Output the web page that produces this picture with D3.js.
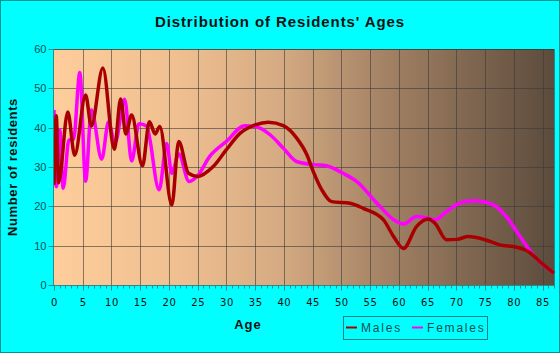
<!DOCTYPE html>
<html>
<head>
<meta charset="utf-8">
<script src="https://cdn.jsdelivr.net/npm/d3@7"></script>
<style>
  body { margin: 0; background: #fff; }
  svg { display: block; }
</style>
</head>
<body>
<svg width="560" height="353"></svg>
<script>
// ages where the curves were read, and counts at those ages
const maleAges = [0, 0.4, 0.8, 2.4, 3.6, 5.5, 6.5, 8.5, 10.5, 11.6, 12.5, 13.5, 15.4, 16.6, 17.6, 18.4,
    20.5, 21.7, 23.4, 25, 27.7, 30, 32.4, 35, 37.3, 39.9, 42.2, 44, 45.1, 46.6, 48.3, 51.5, 53.8,
    57.3, 59.1, 60.8, 63.1, 65.1, 66.3, 68.3, 70.1, 72.1, 75, 77.6, 80.5, 82.3, 85.2, 87];
const maleCounts = [25.5, 43, 26, 44, 33, 48.3, 40.4, 55.2, 34.5, 47.3, 38.4, 43.2, 30.3, 41.5, 38.4, 40.3,
    20.3, 36.5, 28.4, 27.6, 30.1, 34.4, 38.6, 40.7, 41.4, 40.5, 37.4, 33.1, 28.9, 24.2, 21.2, 20.8, 19.5,
    16.6, 12.3, 9.3, 14.9, 16.8, 15.7, 11.5, 11.6, 12.3, 11.5, 10.2, 9.6, 8.7, 5.1, 3];

const femaleAges = [0, 0.4, 1, 1.6, 2.6, 3.4, 4.5, 5.5, 6.5, 8.3, 9.5, 10.6, 12.3, 13.5, 14.8, 16.1,
    18.3, 19.6, 20.5, 21.7, 23.5, 25, 27.1, 30, 33.2, 35, 37.6, 39.9, 42.2, 45.1, 47.4, 50.3, 52.7,
    56.2, 59.1, 60.8, 63.1, 64.9, 66.3, 68.3, 70.6, 72.9, 75, 77, 78.7, 81.1, 83.4, 87];
const femaleCounts = [44.5, 25, 39.4, 24.6, 36.9, 37, 54, 26.4, 44.5, 32, 41.5, 36, 47.2, 31.5, 41, 40.4,
    24.2, 36, 28.4, 33.3, 26.3, 27.8, 32.7, 36.5, 40.5, 40.3, 38.2, 34.8, 31.4, 30.6, 30.3, 28.4, 26.3,
    20.8, 16.6, 15.5, 17.4, 17, 16.6, 18.7, 20.8, 21.4, 21.1, 19.9, 17.4, 12.3, 7.6, 3];

const xTicks = d3.range(0, 86, 5);
const yTicks = d3.range(0, 61, 10);

const svg = d3.select("svg");
const W = 560, H = 353;

// background with teal frame
svg.append("rect")
    .attr("x", 0.5).attr("y", 0.5)
    .attr("width", W - 1).attr("height", H - 1)
    .attr("fill", "#00ffff")
    .attr("stroke", "#009494");

const area = { left: 54, right: 554, top: 49, bottom: 285 };

const scX = d3.scaleLinear().domain([0, 87]).range([area.left, area.right]);
const scY = d3.scaleLinear().domain([0, 60]).range([area.bottom, area.top]);

// plot background gradient (light peach -> dark brown)
const grad = svg.append("defs").append("linearGradient")
    .attr("id", "bg").attr("x1", "0").attr("x2", "1").attr("y1", "0").attr("y2", "0");
[["0%", "#fecd9b"], ["25%", "#efbf90"], ["45%", "#d6ab83"], ["65%", "#a68466"], ["100%", "#5c4b3c"]]
    .forEach(s => grad.append("stop").attr("offset", s[0]).attr("stop-color", s[1]));

svg.append("rect")
    .attr("x", area.left).attr("y", area.top)
    .attr("width", area.right - area.left).attr("height", area.bottom - area.top)
    .attr("fill", "url(#bg)");

// grid
const grid = svg.append("g").attr("stroke", "#3a3a3a").attr("stroke-opacity", 0.6).attr("stroke-width", 1);
grid.selectAll(".gx").data(xTicks.filter(d => d > 0)).enter().append("line")
    .attr("x1", d => Math.round(scX(d)) + 0.5).attr("x2", d => Math.round(scX(d)) + 0.5)
    .attr("y1", area.top).attr("y2", area.bottom);
grid.selectAll(".gy").data(yTicks.filter(d => d > 0)).enter().append("line")
    .attr("x1", area.left).attr("x2", area.right)
    .attr("y1", d => Math.round(scY(d)) + 0.5).attr("y2", d => Math.round(scY(d)) + 0.5);

// plot frame top/right
svg.append("path")
    .attr("d", `M${area.left},${area.top + 0.5}H${area.right + 0.5}V${area.bottom}`)
    .attr("fill", "none").attr("stroke", "#3a3a3a").attr("stroke-opacity", 0.6);

// axes
const axisColor = "#2b8a8a";
const gx = svg.append("g").attr("transform", `translate(0,${area.bottom + 0.5})`);
gx.append("line").attr("x1", area.left).attr("x2", area.right + 1).attr("stroke", axisColor);
gx.selectAll(".minor").data(d3.range(0, 88, 1)).enter().append("line")
    .attr("x1", d => Math.round(scX(d)) + 0.5).attr("x2", d => Math.round(scX(d)) + 0.5)
    .attr("y1", 0).attr("y2", d => d % 5 === 0 ? 5 : 3)
    .attr("stroke", axisColor);
gx.selectAll("text").data(xTicks).enter().append("text")
    .attr("x", d => scX(d) + 0.5).attr("y", 20)
    .attr("text-anchor", "middle")
    .attr("font-family", "DejaVu Sans, Verdana, sans-serif")
    .attr("font-size", 10).attr("letter-spacing", 0.6)
    .attr("fill", "#111")
    .text(d => d);

const gy = svg.append("g").attr("transform", `translate(${area.left - 0.5},0)`);
gy.append("line").attr("y1", area.top).attr("y2", area.bottom + 1).attr("stroke", axisColor);
gy.selectAll(".tick").data(yTicks).enter().append("line")
    .attr("x1", -5).attr("x2", 0)
    .attr("y1", d => Math.round(scY(d)) + 0.5).attr("y2", d => Math.round(scY(d)) + 0.5)
    .attr("stroke", axisColor);
gy.selectAll("text").data(yTicks).enter().append("text")
    .attr("x", -7).attr("y", d => scY(d) + 4)
    .attr("text-anchor", "end")
    .attr("font-family", "Liberation Sans, Arial, sans-serif")
    .attr("font-size", 11)
    .attr("fill", "#0d5252")
    .text(d => d);

// lines
const line = d3.line()
    .x(d => scX(d[0]))
    .y(d => scY(d[1]))
    .curve(d3.curveMonotoneX);

const series = [
    { name: "Females", ages: femaleAges, counts: femaleCounts, color: "#ff00ff" },
    { name: "Males", ages: maleAges, counts: maleCounts, color: "#a80000" }
];

const plot = svg.append("g");
plot.append("clipPath").attr("id", "clip").append("rect")
    .attr("x", area.left).attr("y", area.top - 5)
    .attr("width", area.right - area.left + 2).attr("height", area.bottom - area.top + 5);

series.forEach(s => {
    plot.append("path")
        .datum(s.ages.map((a, i) => [a, s.counts[i]]))
        .attr("clip-path", "url(#clip)")
        .attr("fill", "none")
        .attr("stroke", s.color)
        .attr("stroke-width", 3.5)
        .attr("stroke-linejoin", "round")
        .attr("d", line);
});

// title and axis labels
svg.append("text")
    .attr("x", 280).attr("y", 27)
    .attr("text-anchor", "middle")
    .attr("font-family", "Liberation Sans, Arial, sans-serif")
    .attr("font-size", 15).attr("font-weight", "bold")
    .attr("letter-spacing", 0.9)
    .attr("fill", "#111")
    .text("Distribution of Residents' Ages");

svg.append("text")
    .attr("x", 248).attr("y", 329)
    .attr("text-anchor", "middle")
    .attr("font-family", "Liberation Sans, Arial, sans-serif")
    .attr("font-size", 13).attr("font-weight", "bold")
    .attr("letter-spacing", 1)
    .attr("fill", "#111")
    .text("Age");

svg.append("text")
    .attr("transform", "translate(17,167) rotate(-90)")
    .attr("text-anchor", "middle")
    .attr("font-family", "Liberation Sans, Arial, sans-serif")
    .attr("font-size", 13).attr("font-weight", "bold")
    .attr("letter-spacing", 0.6)
    .attr("fill", "#111")
    .text("Number of residents");

// legend
const legend = svg.append("g");
legend.append("rect")
    .attr("x", 343.5).attr("y", 316.5).attr("width", 144).attr("height", 23)
    .attr("fill", "none").attr("stroke", "#138080");
const legendItems = [
    { name: "Males", color: "#a80000", x: 346 },
    { name: "Females", color: "#ff00ff", x: 412 }
];
legendItems.forEach(it => {
    legend.append("line")
        .attr("x1", it.x).attr("x2", it.x + 11)
        .attr("y1", 327.5).attr("y2", 327.5)
        .attr("stroke", it.color).attr("stroke-width", 2);
    legend.append("text")
        .attr("x", it.x + 15).attr("y", 332)
        .attr("font-family", "Liberation Sans, Arial, sans-serif")
        .attr("font-size", 12)
        .attr("letter-spacing", 1.8)
        .attr("fill", "#0d4f4f")
        .text(it.name);
});
</script>
</body>
</html>
